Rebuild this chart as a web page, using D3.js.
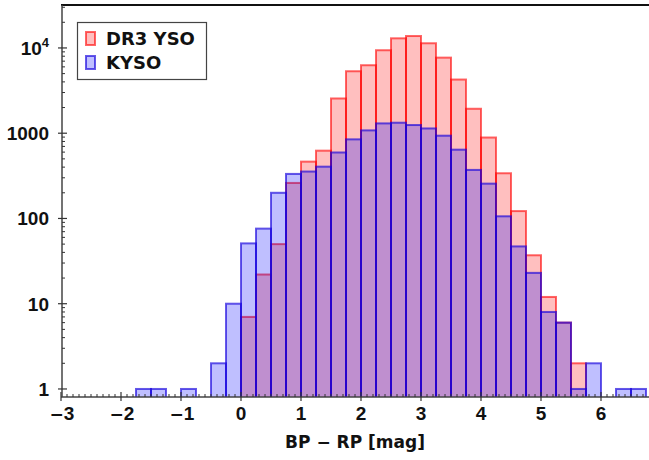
<!DOCTYPE html>
<html>
<head>
<meta charset="utf-8">
<script src="https://cdn.jsdelivr.net/npm/d3@7"></script>
<style>
  body { margin: 0; background: #fff; }
  text { font-family: "Liberation Sans", Arial, sans-serif; font-weight: bold; fill: #111; }
  .wide { font-family: "DejaVu Sans", sans-serif; }
</style>
</head>
<body>
<svg width="649" height="460"></svg>
<script>
// bin left edges (width 0.25 mag)
const binStarts = [-1.75, -1.5, -1.25, -1.0, -0.75, -0.5, -0.25, 0, 0.25, 0.5, 0.75, 1.0, 1.25, 1.5,
  1.75, 2.0, 2.25, 2.5, 2.75, 3.0, 3.25, 3.5, 3.75, 4.0, 4.25, 4.5, 4.75, 5.0, 5.25, 5.5, 5.75, 6.0, 6.25, 6.5];
const binWidth = 0.25;

// counts per bin
const dr3Counts = [0, 0, 0, 0, 0, 0, 0, 7, 22, 50, 261, 464, 624, 2555,
  5330, 6270, 9400, 12970, 13800, 11350, 7700, 4260, 1935, 890, 339, 122, 37, 12, 6, 2, 0, 0, 0, 0];
const kysoCounts = [1, 1, 0, 1, 0, 2, 10, 51, 76, 200, 333, 355, 405, 594,
  847, 1079, 1303, 1327, 1247, 1137, 935, 641, 371, 256, 106, 47, 23, 8, 6, 1, 2, 0, 1, 1];

const seriesNames = ['DR3 YSO', 'KYSO'];
const xTicks = [-3, -2, -1, 0, 1, 2, 3, 4, 5, 6];
const yTicks = [1, 10, 100, 1000, 10000];

const svg = d3.select('svg');
const plot = { left: 61, right: 649, top: 5, bottom: 397 };

const x = d3.scaleLinear().domain([-3, 6.8]).range([plot.left, plot.right]);
const y = d3.scaleLog().domain([0.805, 31900]).range([plot.bottom, plot.top]);

const styles = [
  { fill: 'rgba(255,0,0,0.25)', stroke: 'rgba(255,0,0,0.6)' },
  { fill: 'rgba(0,0,255,0.25)', stroke: 'rgba(20,0,220,0.65)' },
];

svg.append('clipPath').attr('id', 'clip')
  .append('rect')
  .attr('x', plot.left).attr('y', plot.top)
  .attr('width', plot.right - plot.left).attr('height', plot.bottom - plot.top);

const bars = svg.append('g').attr('clip-path', 'url(#clip)');

[dr3Counts, kysoCounts].forEach((counts, i) => {
  const data = binStarts.map((b, j) => ({ b, v: counts[j] })).filter((d) => d.v > 0);
  bars.append('g').selectAll('rect')
    .data(data)
    .enter()
    .append('rect')
    .attr('x', (d) => x(d.b))
    .attr('y', (d) => y(d.v))
    .attr('width', (d) => x(d.b + binWidth) - x(d.b))
    .attr('height', (d) => plot.bottom + 2 - y(d.v))
    .attr('fill', styles[i].fill)
    .attr('stroke', styles[i].stroke)
    .attr('stroke-width', 2);
});

// frame
svg.append('line')
  .attr('x1', plot.left).attr('x2', plot.right)
  .attr('y1', plot.top).attr('y2', plot.top)
  .attr('stroke', '#111').attr('stroke-width', 2);

// x axis
const xAxis = svg.append('g').attr('transform', `translate(0,${plot.bottom})`);
xAxis.append('line')
  .attr('x1', plot.left).attr('x2', plot.right)
  .attr('stroke', '#444').attr('stroke-width', 1.5);
const xMinor = d3.range(-30, 68).map((k) => k / 10).filter((v) => Math.round(v * 10) % 10 !== 0);
xAxis.selectAll('.xminor').data(xMinor).enter().append('line')
  .attr('x1', (d) => x(d)).attr('x2', (d) => x(d))
  .attr('y1', -3).attr('y2', 0)
  .attr('stroke', '#333').attr('stroke-width', 1);
xAxis.selectAll('.xmajor').data(xTicks).enter().append('line')
  .attr('x1', (d) => x(d)).attr('x2', (d) => x(d))
  .attr('y1', -5).attr('y2', 4)
  .attr('stroke', '#333').attr('stroke-width', 1.2);
const xLab = xAxis.selectAll('.xlab').data(xTicks).enter().append('text')
  .attr('x', (d) => x(d) + (d < 0 ? 1 : 0))
  .attr('y', 23)
  .attr('text-anchor', 'middle')
  .attr('font-size', '19px');
xLab.each(function (d) {
  const t = d3.select(this);
  if (d < 0) {
    t.append('tspan').attr('class', 'wide').attr('font-size', '17px').text('\u2212');
  }
  t.append('tspan').text(Math.abs(d));
});

svg.append('text')
  .attr('class', 'wide')
  .attr('x', (plot.left + plot.right) / 2)
  .attr('y', 448)
  .attr('text-anchor', 'middle')
  .attr('font-size', '17px')
  .text('BP \u2212 RP [mag]');

// y axis
const yAxis = svg.append('g').attr('transform', `translate(${plot.left + 1},0)`);
yAxis.append('line')
  .attr('y1', plot.top).attr('y2', plot.bottom)
  .attr('stroke', '#444').attr('stroke-width', 1.5);
const yMinor = [];
[1, 10, 100, 1000, 10000].forEach((p) => {
  for (let k = 2; k <= 9; k += 1) if (p * k < 31900) yMinor.push(p * k);
});
yAxis.selectAll('.yminor').data(yMinor).enter().append('line')
  .attr('y1', (d) => y(d)).attr('y2', (d) => y(d))
  .attr('x1', 0).attr('x2', 3)
  .attr('stroke', '#333').attr('stroke-width', 1);
yAxis.selectAll('.ymajor').data(yTicks).enter().append('line')
  .attr('y1', (d) => y(d)).attr('y2', (d) => y(d))
  .attr('x1', -4).attr('x2', 5)
  .attr('stroke', '#333').attr('stroke-width', 1.2);
const yLab = yAxis.selectAll('.ylab').data(yTicks).enter().append('text')
  .attr('x', -13)
  .attr('y', (d) => y(d) + 7)
  .attr('text-anchor', 'end')
  .attr('font-size', '19px');
yLab.filter((d) => d < 10000).text((d) => d);
yLab.filter((d) => d === 10000).each(function () {
  const t = d3.select(this);
  t.append('tspan').text('10');
  t.append('tspan').attr('dy', -8).attr('font-size', '13px').text('4');
});

// legend
const legend = svg.append('g');
legend.append('rect')
  .attr('x', 77.5).attr('y', 22.5).attr('width', 129).attr('height', 57)
  .attr('fill', '#fff').attr('stroke', '#444').attr('stroke-width', 1.2);
seriesNames.forEach((name, i) => {
  legend.append('rect')
    .attr('x', 86).attr('y', 32 + i * 24).attr('width', 9).attr('height', 13)
    .attr('fill', styles[i].fill).attr('stroke', styles[i].stroke).attr('stroke-width', 2);
  legend.append('text')
    .attr('class', 'wide')
    .attr('x', 106).attr('y', 45 + i * 24)
    .attr('font-size', '18px')
    .text(name);
});
</script>
</body>
</html>
